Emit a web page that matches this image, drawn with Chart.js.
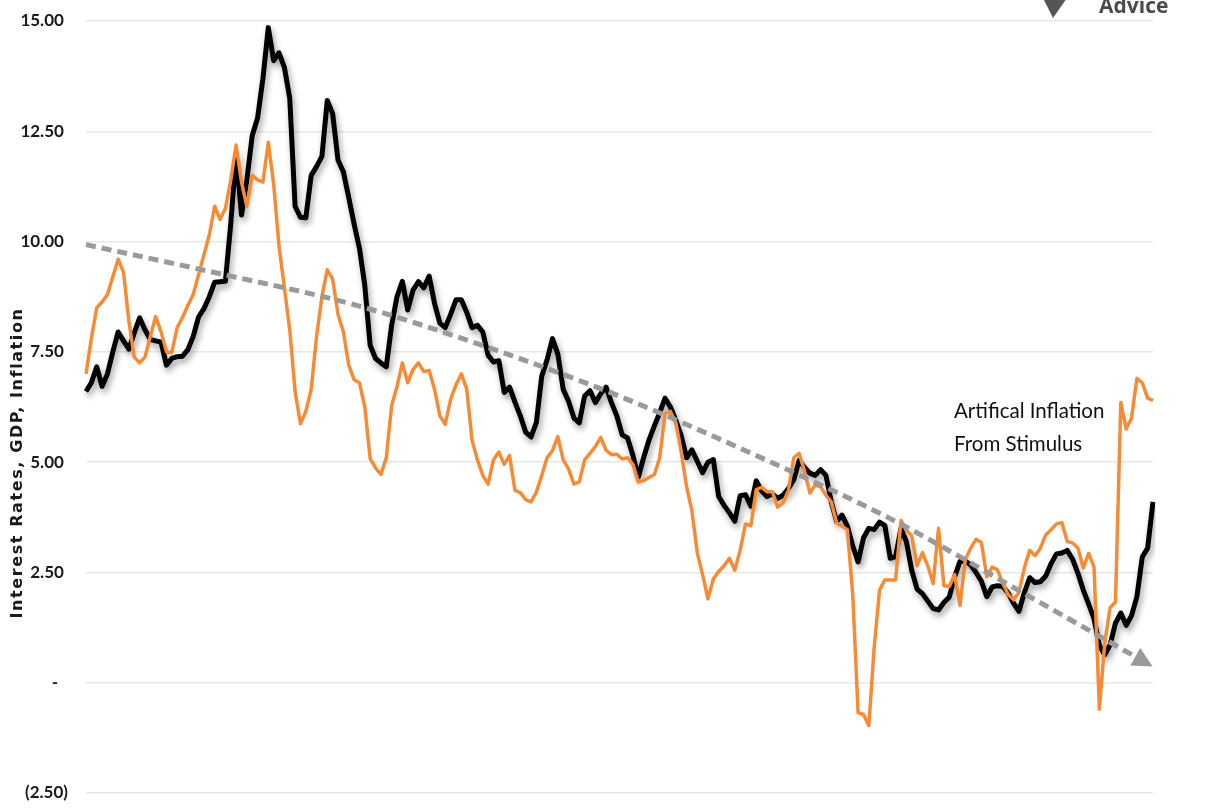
<!DOCTYPE html>
<html>
<head>
<meta charset="utf-8">
<script src="https://cdn.jsdelivr.net/npm/chart.js@4.4.1/dist/chart.umd.min.js"></script>
<style>
  html, body { margin: 0; padding: 0; background: #ffffff; }
  #wrap { width: 1213px; height: 809px; }
</style>
</head>
<body>
<div id="wrap"><canvas id="c" width="1213" height="809"></canvas></div>
<script>
// ---- categories: quarters 1973 Q1 .. 2022 Q4 ----
const startYear = 1973;
const endYear = 2022;
const quarters = [];
for (let y = startYear; y <= endYear; y++) for (let q = 1; q <= 4; q++) quarters.push(y + ' Q' + q);

// ---- interest rate series (black) ----
const rates = [
  6.60, 6.80, 7.16, 6.72, 7.00, 7.50, 7.95, 7.75, 7.56, 7.93,
  8.27, 8.00, 7.78, 7.75, 7.72, 7.20, 7.35, 7.39, 7.40, 7.55,
  7.85, 8.29, 8.48, 8.75, 9.08, 9.09, 9.10, 10.40, 12.00, 10.60,
  11.40, 12.40, 12.80, 13.70, 14.85, 14.10, 14.28, 13.95, 13.25, 10.80,
  10.55, 10.54, 11.50, 11.70, 11.93, 13.20, 12.90, 11.85, 11.58, 11.00,
  10.40, 9.85, 9.00, 7.65, 7.35, 7.25, 7.16, 8.10, 8.75, 9.10,
  8.45, 8.90, 9.09, 8.95, 9.22, 8.60, 8.15, 8.05, 8.35, 8.68,
  8.68, 8.40, 8.05, 8.10, 7.95, 7.42, 7.27, 7.30, 6.58, 6.70,
  6.36, 6.05, 5.68, 5.57, 5.90, 6.95, 7.32, 7.80, 7.45, 6.65,
  6.38, 6.00, 5.89, 6.50, 6.62, 6.35, 6.55, 6.70, 6.35, 6.05,
  5.62, 5.55, 5.15, 4.66, 5.10, 5.50, 5.82, 6.12, 6.45, 6.25,
  5.95, 5.60, 5.10, 5.28, 5.02, 4.76, 5.00, 5.06, 4.22, 4.02,
  3.85, 3.66, 4.24, 4.26, 4.00, 4.58, 4.35, 4.22, 4.28, 4.18,
  4.25, 4.40, 4.60, 5.04, 4.88, 4.75, 4.70, 4.83, 4.70, 4.10,
  3.65, 3.80, 3.55, 3.10, 2.74, 3.28, 3.50, 3.47, 3.64, 3.56,
  2.82, 2.86, 3.50, 3.20, 2.55, 2.12, 2.02, 1.85, 1.68, 1.65,
  1.82, 1.94, 2.40, 2.75, 2.76, 2.67, 2.50, 2.30, 1.95, 2.17,
  2.20, 2.18, 2.03, 1.80, 1.62, 2.04, 2.38, 2.27, 2.29, 2.42,
  2.70, 2.92, 2.94, 3.00, 2.80, 2.48, 2.10, 1.78, 1.45, 0.85,
  0.63, 0.86, 1.35, 1.58, 1.30, 1.52, 1.95, 2.85, 3.05, 4.10
];

// ---- inflation series (orange) ----
const inflation = [
  7.00, 7.80, 8.50, 8.63, 8.80, 9.20, 9.60, 9.30, 8.20, 7.38,
  7.25, 7.38, 7.85, 8.30, 7.95, 7.50, 7.48, 8.05, 8.28, 8.55,
  8.80, 9.25, 9.70, 10.15, 10.80, 10.50, 10.75, 11.40, 12.19, 11.35,
  10.80, 11.50, 11.40, 11.35, 12.25, 11.30, 9.90, 8.95, 8.00, 6.60,
  5.87, 6.15, 6.65, 7.85, 8.75, 9.36, 9.15, 8.35, 7.95, 7.20,
  6.87, 6.80, 6.25, 5.08, 4.87, 4.72, 5.10, 6.28, 6.71, 7.25,
  6.80, 7.10, 7.25, 7.05, 7.08, 6.65, 6.05, 5.86, 6.42, 6.75,
  7.00, 6.66, 5.50, 5.05, 4.70, 4.50, 5.05, 5.23, 4.95, 5.15,
  4.36, 4.31, 4.15, 4.10, 4.32, 4.70, 5.10, 5.26, 5.58, 5.05,
  4.84, 4.50, 4.55, 5.05, 5.20, 5.35, 5.56, 5.27, 5.17, 5.18,
  5.07, 5.10, 4.95, 4.55, 4.58, 4.65, 4.72, 5.10, 6.10, 6.15,
  5.90, 5.25, 4.45, 3.90, 2.95, 2.45, 1.90, 2.35, 2.52, 2.65,
  2.82, 2.55, 3.00, 3.60, 3.56, 4.38, 4.43, 4.33, 4.33, 3.98,
  4.08, 4.35, 5.10, 5.20, 4.80, 4.30, 4.48, 4.44, 4.25, 4.10,
  3.62, 3.55, 3.47, 2.00, -0.68, -0.72, -0.97, 0.80, 2.10, 2.33,
  2.33, 2.33, 3.68, 3.46, 3.33, 2.65, 2.95, 2.65, 2.25, 3.50,
  2.20, 2.18, 2.45, 1.75, 2.80, 3.05, 3.25, 3.18, 2.40, 2.62,
  2.56, 2.25, 2.00, 1.88, 2.05, 2.60, 3.00, 2.88, 3.05, 3.35,
  3.47, 3.60, 3.63, 3.20, 3.17, 3.05, 2.60, 2.93, 2.62, -0.60,
  0.90, 1.70, 1.83, 6.35, 5.75, 6.00, 6.90, 6.80, 6.45, 6.40
];

// ---- downward trend (dashed grey), read at a few quarters ----
const trendIndex  = [0,    25,   50,   75,   100,  125,  150,  175,  197];
const trendValues = [9.93, 9.27, 8.57, 7.60, 6.47, 5.15, 3.72, 2.02, 0.50];

// ---- y axis ticks ----
const yMin = -2.5, yMax = 15, yStep = 2.5;
const FIG = '\u2007';
function tickLabel(v) {
  if (Math.abs(v) < 1e-9) return '-' + FIG + FIG + ' ';
  if (v < 0) return '(' + Math.abs(v).toFixed(2) + ')' + FIG + ' ';
  return v.toFixed(2) + FIG + '  ';
}

const annotationLines = ['Artifical Inflation', 'From Stimulus'];
const yTitle = 'Interest Rates, GDP, Inflation';
const logoText = 'Advice';

const trendData = trendIndex.map((i, k) => ({ x: quarters[i], y: trendValues[k] }));
const TREND_COLOR = '#9a9a9a';

const shadowPlugin = {
  id: 'lineShadow',
  beforeDatasetDraw(chart, args) {
    if (chart.data.datasets[args.index].shadow) {
      const ctx = chart.ctx;
      ctx.save();
      ctx.shadowColor = 'rgba(0,0,0,0.38)';
      ctx.shadowBlur = 6;
      ctx.shadowOffsetX = 2;
      ctx.shadowOffsetY = 4;
    }
  },
  afterDatasetDraw(chart, args) {
    if (chart.data.datasets[args.index].shadow) chart.ctx.restore();
  }
};

// arrow head at the end of the trend line, placed from the trend's own scaled points
const arrowPlugin = {
  id: 'trendArrow',
  afterDatasetsDraw(chart) {
    const idx = chart.data.datasets.findIndex(d => d.arrow);
    if (idx < 0) return;
    const pts = chart.getDatasetMeta(idx).data;
    const p = pts[pts.length - 1], q = pts[pts.length - 2];
    let dx = p.x - q.x, dy = p.y - q.y;
    const len = Math.hypot(dx, dy) || 1; dx /= len; dy /= len;
    const nx = -dy, ny = dx;
    const tipX = p.x + dx * 12, tipY = p.y + dy * 12;
    const bX = p.x - dx * 8, bY = p.y - dy * 8;
    const ctx = chart.ctx;
    ctx.save();
    ctx.fillStyle = TREND_COLOR;
    ctx.beginPath();
    ctx.moveTo(tipX, tipY);
    ctx.lineTo(bX + nx * 10, bY + ny * 10);
    ctx.lineTo(bX - nx * 10, bY - ny * 10);
    ctx.closePath();
    ctx.fill();
    ctx.restore();
  }
};

const textPlugin = {
  id: 'texts',
  afterDraw(chart) {
    const ctx = chart.ctx;
    ctx.save();
    // annotation
    ctx.fillStyle = '#111111';
    ctx.font = '20.5px Lato, "DejaVu Sans Condensed", sans-serif';
    ctx.textAlign = 'left';
    ctx.textBaseline = 'middle';
    ctx.fillText(annotationLines[0], 954, 411);
    ctx.fillText(annotationLines[1], 954, 444);
    // y title
    ctx.translate(18, 463);
    ctx.rotate(-Math.PI / 2);
    ctx.textAlign = 'center';
    ctx.textBaseline = 'middle';
    ctx.font = 'bold 16px "DejaVu Sans", sans-serif';
    try { ctx.letterSpacing = '1.6px'; } catch (e) {}
    ctx.fillStyle = '#1a1a1a';
    ctx.fillText(yTitle, 0, 0);
    ctx.restore();
    // logo fragment
    ctx.save();
    ctx.fillStyle = '#555555';
    ctx.beginPath();
    ctx.moveTo(1043, -2); ctx.lineTo(1067, -2); ctx.lineTo(1053, 18); ctx.closePath();
    ctx.fill();
    ctx.fillStyle = '#4a4a4a';
    ctx.font = 'bold 21px "Open Sans", "DejaVu Sans", sans-serif';
    ctx.textAlign = 'left';
    ctx.textBaseline = 'alphabetic';
    ctx.fillText(logoText, 1099, 13);
    ctx.restore();
  }
};

new Chart(document.getElementById('c'), {
  type: 'line',
  data: {
    labels: quarters,
    datasets: [
      {
        label: 'Trend',
        data: trendData,
        borderColor: TREND_COLOR,
        borderWidth: 5,
        borderDash: [10, 6],
        borderCapStyle: 'butt',
        tension: 0.4,
        cubicInterpolationMode: 'monotone',
        pointRadius: 0,
        arrow: true,
        order: 0
      },
      {
        label: 'Inflation',
        data: inflation,
        borderColor: '#F68B35',
        borderWidth: 3.5,
        pointRadius: 0,
        tension: 0,
        borderJoinStyle: 'round',
        order: 1
      },
      {
        label: 'Interest Rates',
        data: rates,
        borderColor: '#000000',
        borderWidth: 5,
        pointRadius: 0,
        tension: 0,
        borderJoinStyle: 'round',
        shadow: true,
        order: 2
      }
    ]
  },
  options: {
    responsive: false,
    animation: false,
    devicePixelRatio: 1,
    layout: { padding: { top: 21, bottom: 16, left: 0, right: 60 } },
    plugins: { legend: { display: false }, tooltip: { enabled: false } },
    scales: {
      x: { display: false },
      y: {
        min: yMin, max: yMax,
        ticks: {
          stepSize: yStep,
          callback: (v) => tickLabel(v),
          color: '#1a1a1a',
          padding: 4,
          font: { family: 'Lato, "DejaVu Sans Condensed", sans-serif', size: 17, weight: 'bold' }
        },
        grid: { color: '#e8e8e8', lineWidth: 1.5, drawTicks: false },
        border: { display: false },
        afterFit(scale) { scale.width = 86; }
      }
    }
  },
  plugins: [shadowPlugin, arrowPlugin, textPlugin]
});
</script>
</body>
</html>
